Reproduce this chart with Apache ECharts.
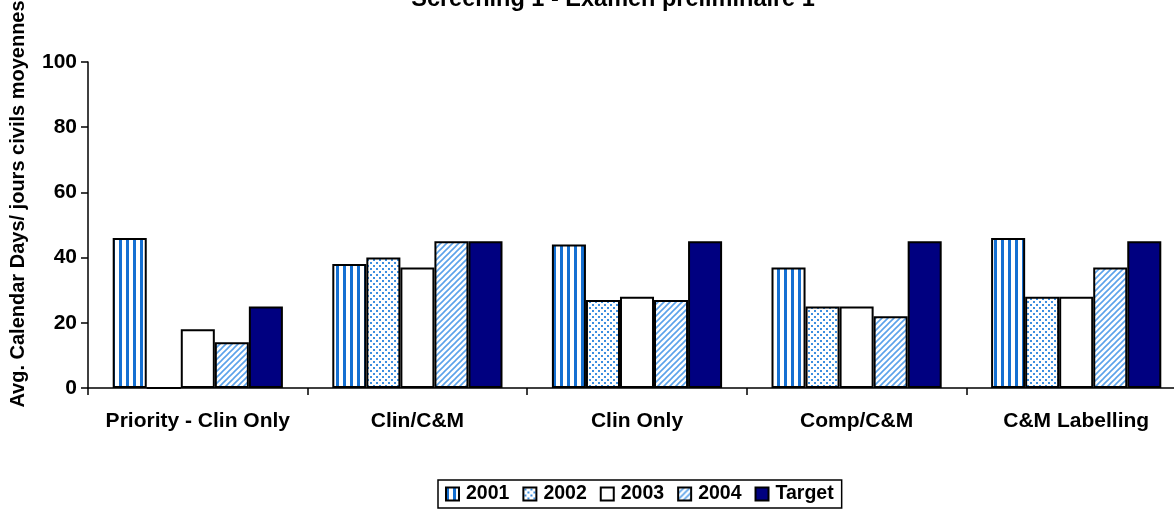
<!DOCTYPE html>
<html><head><meta charset="utf-8">
<script src="https://cdn.jsdelivr.net/npm/echarts@6/dist/echarts.min.js"></script>
<style>html,body{margin:0;padding:0;background:#fff;overflow:hidden;width:1174px;height:518px}#c{width:1186px;height:518px}</style>
</head><body><div id="c"></div>
<script>
const categories = ['Priority - Clin Only', 'Clin/C&M', 'Clin Only', 'Comp/C&M', 'C&M Labelling'];
const seriesNames = ['2001', '2002', '2003', '2004', 'Target'];
const v2001 = [46, 38, 44, 37, 46];
const v2002 = [0, 40, 27, 25, 28];
const v2003 = [18, 37, 28, 25, 28];
const v2004 = [14, 45, 27, 22, 37];
const vTarget = [25, 45, 45, 45, 45];
const yTicks = [0, 20, 40, 60, 80, 100];

function mk(w, h, draw) {
  const c = document.createElement('canvas'); c.width = w; c.height = h;
  const g = c.getContext('2d'); g.fillStyle = '#fff'; g.fillRect(0, 0, w, h); draw(g); return c;
}
const pStripe = mk(7, 7, g => { g.fillStyle = '#1570d2'; g.fillRect(0, 0, 3, 7); });
const pDots = mk(6, 6, g => { g.fillStyle = '#3d8fe0'; g.fillRect(1, 1, 2, 2); g.fillRect(4, 4, 2, 2); });
const pDiag = mk(6, 6, g => {
  g.strokeStyle = '#5ba2ea'; g.lineWidth = 1.6;
  g.beginPath(); g.moveTo(-1, 7); g.lineTo(7, -1); g.moveTo(-1, 1); g.lineTo(1, -1); g.moveTo(5, 7); g.lineTo(7, 5); g.stroke();
});
const fills = [
  { image: pStripe, repeat: 'repeat' },
  { image: pDots, repeat: 'repeat' },
  '#ffffff',
  { image: pDiag, repeat: 'repeat' },
  '#000080'
];
const data = [v2001, v2002, v2003, v2004, vTarget];
const font = 'Liberation Sans, Arial, sans-serif';

const chart = echarts.init(document.getElementById('c'), null, { renderer: 'canvas' });
chart.setOption({
  animation: false,
  backgroundColor: '#fff',
  title: {
    text: 'Screening 1 - Examen préliminaire 1', left: 608, textAlign: 'center', top: -17,
    textStyle: { fontFamily: font, fontWeight: 'bold', fontSize: 23.5, color: '#000' }
  },
  grid: { left: 88, right: 0, top: 62, bottom: 130, containLabel: false },
  legend: {
    data: seriesNames, left: 438, top: 480, itemWidth: 13, itemHeight: 13, itemGap: 13,
    icon: 'rect',
    padding: [4, 8, 4, 7], borderColor: '#000', borderWidth: 1.5,
    textStyle: { fontFamily: font, fontWeight: 'bold', fontSize: 19.5, color: '#000', padding: [0, 0, 0, 2] }
  },
  xAxis: {
    type: 'category', data: categories,
    axisLine: { lineStyle: { color: '#000', width: 1.5 } },
    axisTick: { show: true, interval: 0, length: 7, lineStyle: { color: '#000', width: 1.5 } },
    axisLabel: { interval: 0, margin: 23, fontFamily: font, fontWeight: 'bold', fontSize: 21, color: '#000' }
  },
  yAxis: {
    type: 'value', min: 0, max: 100, interval: 20,
    axisLine: { show: true, lineStyle: { color: '#000', width: 1.5 } },
    axisTick: { show: true, length: 7, lineStyle: { color: '#000', width: 1.5 } },
    splitLine: { show: false },
    axisLabel: { margin: 11, fontFamily: font, fontWeight: 'bold', fontSize: 21, color: '#000',
      formatter: v => yTicks.includes(v) ? String(v) : '' }
  },
  graphic: [{
    type: 'text', x: 18, y: 204, rotation: Math.PI / 2,
    style: { text: 'Avg. Calendar Days/ jours civils moyennes', fontFamily: font, fontWeight: 'bold', fontSize: 20, fill: '#000',
      textAlign: 'center', textVerticalAlign: 'middle' }
  }],
  series: seriesNames.map((n, i) => ({
    name: n, type: 'bar', data: data[i],
    barGap: '0%', barCategoryGap: '22.5%',
    itemStyle: { color: fills[i], borderColor: '#000', borderWidth: 2 }
  }))
});
</script></body></html>
